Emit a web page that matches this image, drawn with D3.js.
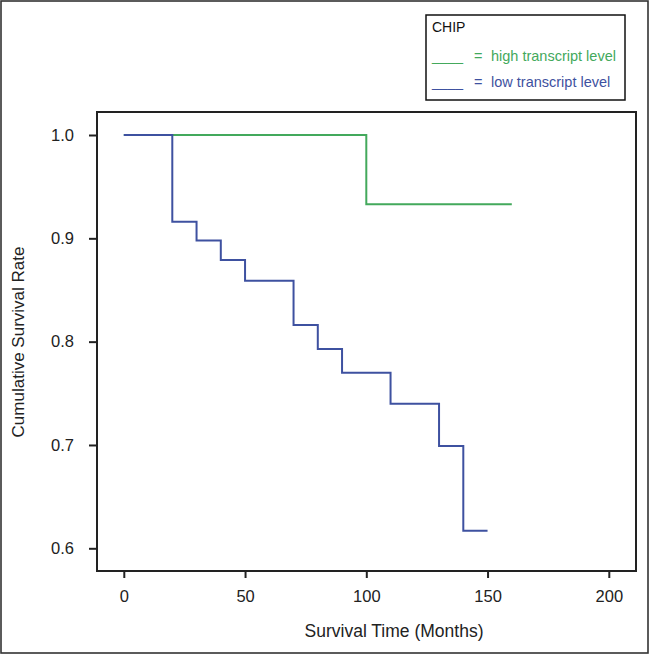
<!DOCTYPE html>
<html><head><meta charset="utf-8">
<script src="https://cdn.jsdelivr.net/npm/d3@7"></script>
<style>body{margin:0;background:#fff}svg{display:block}text{font-family:"Liberation Sans",Arial,sans-serif}</style>
</head><body><svg id="c" width="650" height="655"></svg>
<script>
// Data
const xTicks = [0, 50, 100, 150, 200];
const yTicks = [0.6, 0.7, 0.8, 0.9, 1.0];
const highTimes = [0, 100, 160];
const highSurv  = [1.0, 0.933, 0.933];
const lowTimes  = [0, 20, 30, 40, 50, 70, 80, 90, 110, 130, 140, 150];
const lowSurv   = [1.0, 0.916, 0.898, 0.879, 0.859, 0.816, 0.793, 0.770, 0.740, 0.699, 0.617, 0.617];
const legendTitle = "CHIP";
const legendLabels = ["high transcript level", "low transcript level"];
const colors = ["#43a95c", "#3e51a0"];

const svg = d3.select("#c");
// outer border
svg.append("rect").attr("x",1).attr("y",1).attr("width",647).attr("height",652)
  .attr("fill","none").attr("stroke","#333").attr("stroke-width",1.6);

const x = d3.scaleLinear().domain([0,200]).range([123.8,608.8]);
const y = d3.scaleLinear().domain([0.6,1.0]).range([548.3,135]);
const frame = {l:97, t:112, r:636, b:571};

// step lines
const line = d3.line().x(d=>x(d[0])).y(d=>y(d[1])).curve(d3.curveStepAfter);
const series = [
  d3.zip(highTimes, highSurv),
  d3.zip(lowTimes, lowSurv)
];
series.forEach((s,i)=>{
  svg.append("path").attr("d", line(s)).attr("fill","none")
    .attr("stroke", colors[i]).attr("stroke-width",2);
});

// frame
svg.append("rect").attr("x",frame.l).attr("y",frame.t)
  .attr("width",frame.r-frame.l).attr("height",frame.b-frame.t)
  .attr("fill","none").attr("stroke","#222").attr("stroke-width",2);

// axes
const xAxis = d3.axisBottom(x).tickValues(xTicks).tickFormat(d3.format("d")).tickSize(7).tickPadding(12);
const gx = svg.append("g").attr("transform",`translate(0,${frame.b})`).call(xAxis);
gx.select(".domain").remove();
const yAxis = d3.axisLeft(y).tickValues(yTicks).tickFormat(d3.format(".1f")).tickSize(8).tickPadding(15);
const gy = svg.append("g").attr("transform",`translate(${frame.l},0)`).call(yAxis);
gy.select(".domain").remove();
[gx,gy].forEach(g=>{
  g.attr("font-size",null).attr("font-family",null);
  g.selectAll("line").attr("stroke","#222").attr("stroke-width",2);
  g.selectAll("text").attr("fill","#222").style("font-size","16.5px");
});

// axis titles
svg.append("text").attr("x",394).attr("y",637).attr("text-anchor","middle")
  .attr("fill","#222").style("font-size","17.5px").text("Survival Time (Months)");
svg.append("text").attr("transform","translate(24,342) rotate(-90)").attr("text-anchor","middle")
  .attr("fill","#222").style("font-size","17px").text("Cumulative Survival Rate");

// legend
svg.append("rect").attr("x",426).attr("y",15).attr("width",199).attr("height",85)
  .attr("fill","#fff").attr("stroke","#111").attr("stroke-width",1.5);
svg.append("text").attr("x",432).attr("y",32).attr("fill","#111").style("font-size","14px").text(legendTitle);
legendLabels.forEach((lab,i)=>{
  const yy = 61 + i*26;
  svg.append("text").attr("x",432).attr("y",yy).attr("fill",colors[i]).style("font-size","14px").text("____");
  svg.append("text").attr("x",474).attr("y",yy).attr("fill",colors[i]).style("font-size","14.5px").text("=");
  svg.append("text").attr("x",491).attr("y",yy).attr("fill",colors[i]).style("font-size","14.5px").text(lab);
});
</script></body></html>
